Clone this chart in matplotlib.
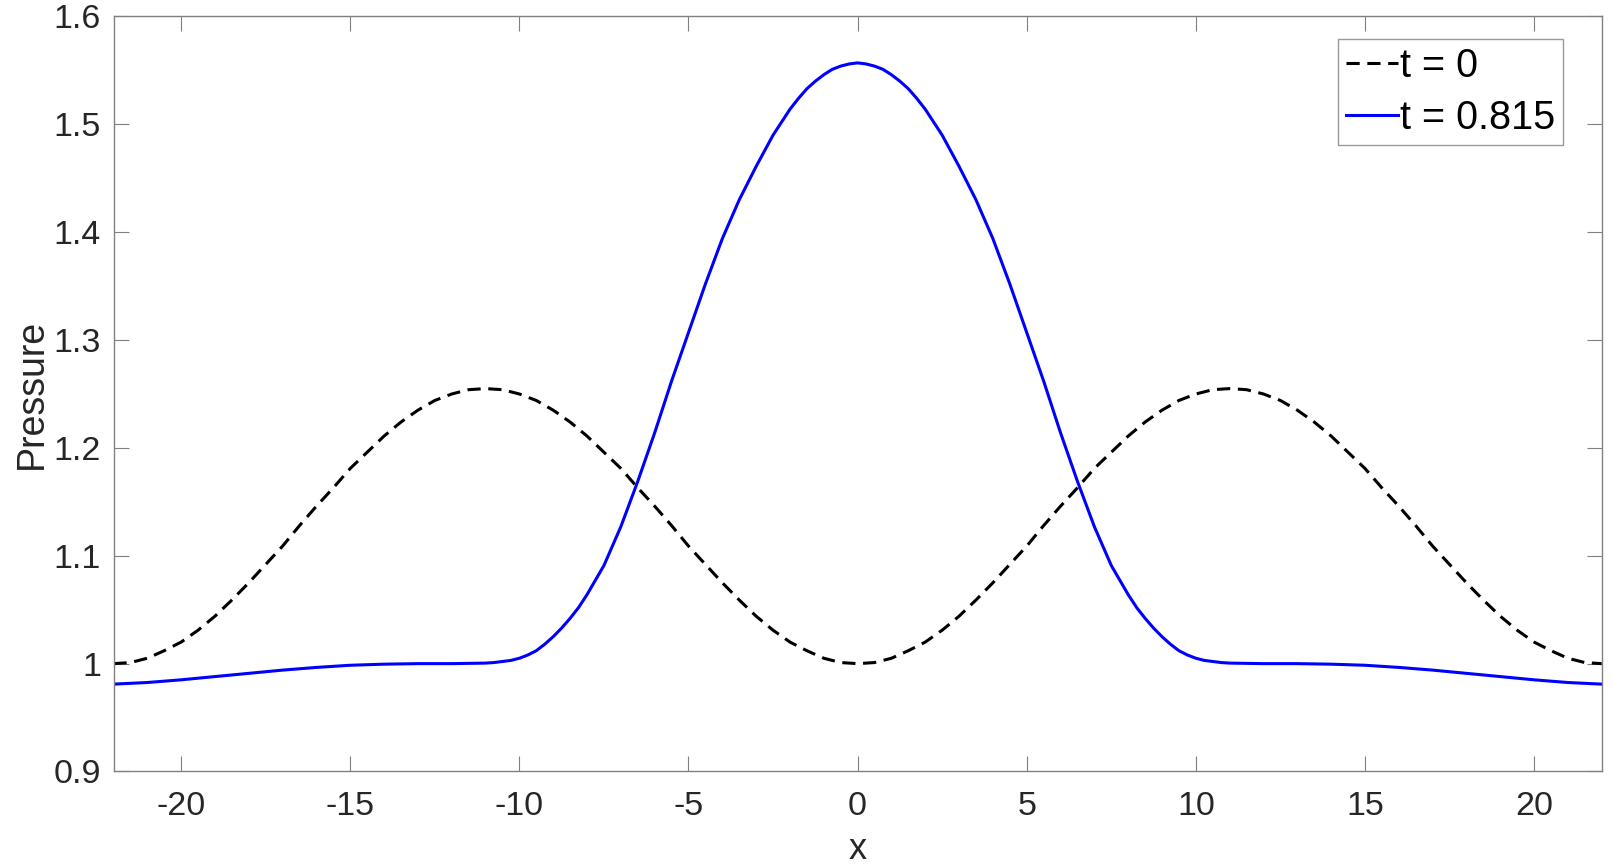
import numpy as np
import matplotlib
matplotlib.use('Agg')
import matplotlib.pyplot as plt

# t = 0 (dashed black), read every 0.5 in x
x_t0 = np.arange(-22, 22.5, 0.5)
p_t0 = [1.000, 1.001, 1.005, 1.012, 1.020, 1.031, 1.044, 1.059, 1.075, 1.092, 1.109, 1.128,
        1.146, 1.163, 1.181, 1.196, 1.211, 1.224, 1.235, 1.244, 1.250, 1.254, 1.255,
        1.254, 1.250, 1.244, 1.235, 1.224, 1.211, 1.196, 1.181, 1.163, 1.146, 1.128,
        1.109, 1.092, 1.075, 1.059, 1.044, 1.031, 1.020, 1.012, 1.005, 1.001, 1.000,
        1.001, 1.005, 1.012, 1.020, 1.031, 1.044, 1.059, 1.075, 1.092, 1.109, 1.128,
        1.146, 1.163, 1.181, 1.196, 1.211, 1.224, 1.235, 1.244, 1.250, 1.254, 1.255,
        1.254, 1.250, 1.244, 1.235, 1.224, 1.211, 1.196, 1.181, 1.163, 1.146, 1.128,
        1.109, 1.092, 1.075, 1.059, 1.044, 1.031, 1.020, 1.012, 1.005, 1.001, 1.000]

# t = 0.815 (solid blue)
x_t1 = [-22, -21, -20, -19, -18, -17, -16, -15, -14, -13, -12, -11,
        -10.75, -10.5, -10.25, -10, -9.75, -9.5, -9.25, -9, -8.75, -8.5, -8.25, -8,
        -7.5, -7, -6.5, -6, -5.5, -5, -4.5, -4, -3.5, -3, -2.5, -2,
        -1.75, -1.5, -1.25, -1, -0.75, -0.5, -0.25, 0,
        0.25, 0.5, 0.75, 1, 1.25, 1.5, 1.75,
        2, 2.5, 3, 3.5, 4, 4.5, 5, 5.5, 6, 6.5, 7, 7.5,
        8, 8.25, 8.5, 8.75, 9, 9.25, 9.5, 9.75, 10, 10.25, 10.5, 10.75,
        11, 12, 13, 14, 15, 16, 17, 18, 19, 20, 21, 22]
p_t1 = [0.981, 0.9825, 0.985, 0.988, 0.991, 0.994, 0.9965, 0.9985, 0.9995, 1.000, 1.000, 1.0005,
        1.001, 1.002, 1.003, 1.005, 1.008, 1.012, 1.018, 1.025, 1.033, 1.042, 1.052, 1.064,
        1.091, 1.127, 1.169, 1.214, 1.262, 1.307, 1.352, 1.394, 1.430, 1.461, 1.490, 1.514,
        1.524, 1.533, 1.540, 1.546, 1.551, 1.554, 1.556, 1.557,
        1.556, 1.554, 1.551, 1.546, 1.540, 1.533, 1.524,
        1.514, 1.490, 1.461, 1.430, 1.394, 1.352, 1.307, 1.262, 1.214, 1.169, 1.127, 1.091,
        1.064, 1.052, 1.042, 1.033, 1.025, 1.018, 1.012, 1.008, 1.005, 1.003, 1.002, 1.001,
        1.0005, 1.000, 1.000, 0.9995, 0.9985, 0.9965, 0.994, 0.991, 0.988, 0.985, 0.9825, 0.981]

labels = ['t = 0', 't = 0.815']
x_ticks = [-20, -15, -10, -5, 0, 5, 10, 15, 20]
y_ticks = [0.9, 1.0, 1.1, 1.2, 1.3, 1.4, 1.5, 1.6]
y_tick_labels = ['0.9', '1', '1.1', '1.2', '1.3', '1.4', '1.5', '1.6']

plt.rcParams['font.family'] = ['Liberation Sans', 'DejaVu Sans']
plt.rcParams['lines.scale_dashes'] = False

axis_gray = '#808080'
text_gray = '#262626'

fig = plt.figure(figsize=(16.13, 8.68), dpi=100)
ax = fig.add_axes([0.07037, 0.11118, 0.92263, 0.86982])

ax.plot(x_t0, p_t0, color='black', linewidth=2.2, linestyle=(0, (9.5, 5.5)), label=labels[0])
ax.plot(x_t1, p_t1, color=(0, 0, 1), linewidth=2.2, label=labels[1])

ax.set_xlim(-22, 22)
ax.set_ylim(0.9, 1.6)
ax.set_xticks(x_ticks)
ax.set_xticklabels([str(v) for v in x_ticks])
ax.set_yticks(y_ticks)
ax.set_yticklabels(y_tick_labels)

for s in ax.spines.values():
    s.set_color(axis_gray)
    s.set_linewidth(1.0)
ax.tick_params(direction='in', length=10.5, width=0.8, colors=axis_gray,
               top=True, right=True, labelsize=24.5, labelcolor=text_gray)
ax.tick_params(axis='x', pad=14)
ax.tick_params(axis='y', pad=9)

ax.set_xlabel('x', fontsize=26, color=text_gray, labelpad=7)
ax.set_ylabel('Pressure', fontsize=27, color=text_gray, labelpad=2.5)

leg = ax.legend(loc='upper right', fontsize=28.5, frameon=True, fancybox=False,
                edgecolor=axis_gray, handlelength=1.3, handletextpad=0.05,
                borderpad=0.2, labelspacing=0.36, borderaxespad=0.0,
                bbox_to_anchor=(1563.0 / 1613, 1 - 39 / 868), bbox_transform=fig.transFigure)
leg.get_frame().set_linewidth(1.0)
for t in leg.get_texts():
    t.set_color('black')

fig.savefig('out.png', dpi=100)
